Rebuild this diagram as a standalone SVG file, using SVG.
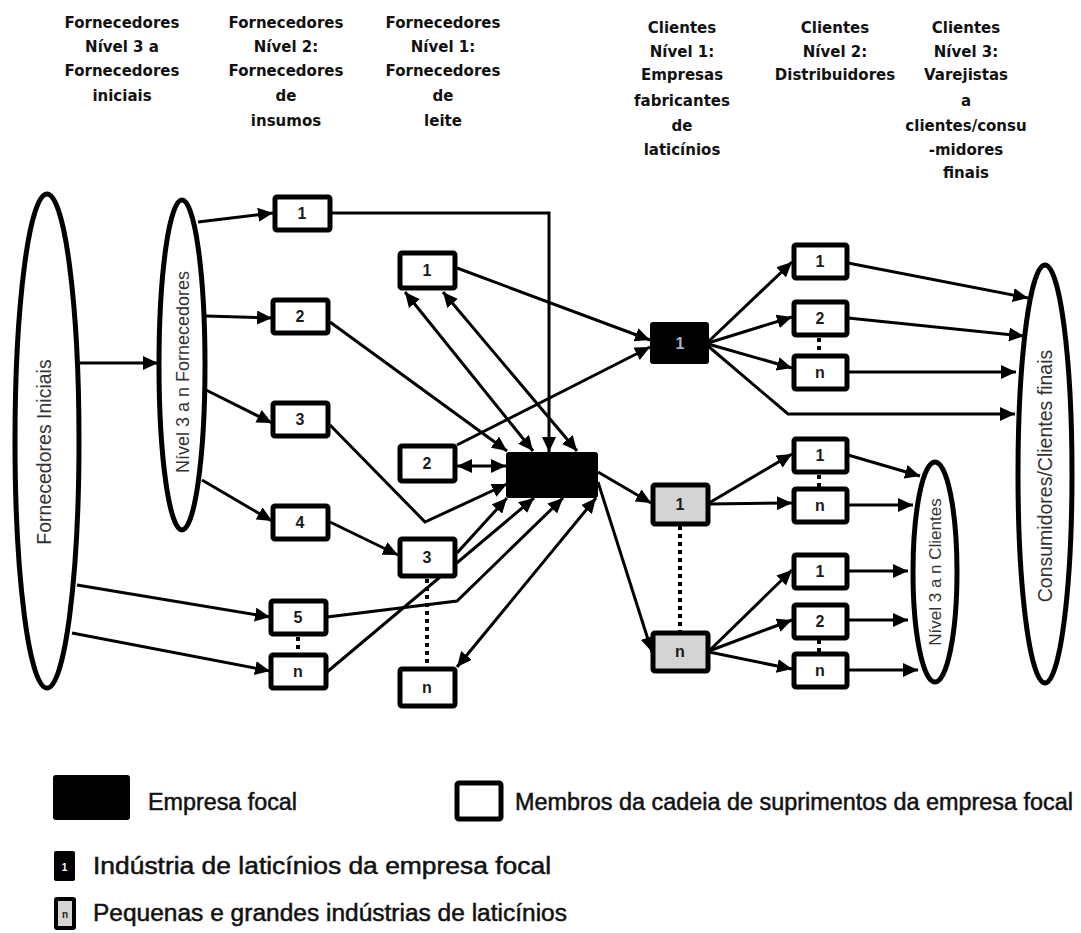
<svg xmlns="http://www.w3.org/2000/svg" width="1081" height="933" viewBox="0 0 1081 933">
  <defs>
    <marker id="arr" markerUnits="userSpaceOnUse" markerWidth="16" markerHeight="14" refX="15" refY="7" orient="auto-start-reverse">
      <path d="M0,0 L15,7 L0,14 z" fill="#000"/>
    </marker>
    <style>
      .hdr { font-family: "DejaVu Sans", "Liberation Sans", sans-serif; font-weight: bold; font-size: 15px; fill: #111; text-anchor: middle; }
      .box { fill: #fff; stroke: #000; stroke-width: 5; }
      .grey { fill: #d4d4d4; stroke: #000; stroke-width: 5; }
      .lbl { font-family: "Liberation Sans", Arial, sans-serif; font-weight: bold; font-size: 16px; fill: #1a1a1a; text-anchor: middle; }
      .ell { fill: #fff; stroke: #000; stroke-width: 5; }
      .rot { font-family: "Liberation Sans", Arial, sans-serif; font-size: 18px; fill: #333; text-anchor: middle; }
      .arw { fill: none; stroke: #000; stroke-width: 3; marker-end: url(#arr); }
      .dbl { fill: none; stroke: #000; stroke-width: 3; marker-start: url(#arr); marker-end: url(#arr); }
      .dot { fill: none; stroke: #000; stroke-width: 4; stroke-dasharray: 4 4; }
      .leg { font-family: "Liberation Sans", Arial, sans-serif; font-size: 23px; fill: #111; stroke: #111; stroke-width: 0.5; }
    </style>
  </defs>

  <rect width="1081" height="933" fill="#fff"/>

  <!-- column headings -->
  <g id="headers">
    <text class="hdr" x="122" y="28">Fornecedores<tspan x="122" dy="24">Nível 3 a</tspan><tspan x="122" dy="24">Fornecedores</tspan><tspan x="122" dy="25">iniciais</tspan></text>
    <text class="hdr" x="286" y="28">Fornecedores<tspan x="286" dy="24">Nível 2:</tspan><tspan x="286" dy="24">Fornecedores</tspan><tspan x="286" dy="25">de</tspan><tspan x="286" dy="25">insumos</tspan></text>
    <text class="hdr" x="443" y="28">Fornecedores<tspan x="443" dy="24">Nível 1:</tspan><tspan x="443" dy="24">Fornecedores</tspan><tspan x="443" dy="25">de</tspan><tspan x="443" dy="25">leite</tspan></text>
    <text class="hdr" x="682" y="33">Clientes<tspan x="682" dy="24">Nível 1:</tspan><tspan x="682" dy="23">Empresas</tspan><tspan x="682" dy="26">fabricantes</tspan><tspan x="682" dy="25">de</tspan><tspan x="682" dy="24">laticínios</tspan></text>
    <text class="hdr" x="835" y="33">Clientes<tspan x="835" dy="24">Nível 2:</tspan><tspan x="835" dy="23">Distribuidores</tspan></text>
    <text class="hdr" x="966" y="33">Clientes<tspan x="966" dy="24">Nível 3:</tspan><tspan x="966" dy="23">Varejistas</tspan><tspan x="966" dy="26">a</tspan><tspan x="966" dy="25">clientes/consu</tspan><tspan x="966" dy="24">-midores</tspan><tspan x="966" dy="23">finais</tspan></text>
  </g>

  <!-- connectors -->
  <g id="connectors">
    <line class="arw" x1="80" y1="363" x2="158" y2="363"/>
    <line class="arw" x1="77" y1="585" x2="270" y2="617"/>
    <line class="arw" x1="72" y1="633" x2="270" y2="671"/>
    <line class="arw" x1="198" y1="222" x2="273" y2="213"/>
    <line class="arw" x1="206" y1="316" x2="272" y2="318"/>
    <line class="arw" x1="206" y1="390" x2="272" y2="423"/>
    <line class="arw" x1="202" y1="480" x2="272" y2="521"/>
    <polyline class="arw" points="330,213 549,213 549,452"/>
    <line class="arw" x1="330" y1="322" x2="507" y2="451"/>
    <polyline class="arw" points="330,425 425,522 507,484"/>
    <line class="arw" x1="330" y1="522" x2="398" y2="555"/>
    <polyline class="arw" points="327,617 457,601 563,498"/>
    <line class="arw" x1="327" y1="672" x2="534" y2="498"/>
    <line class="arw" x1="457" y1="553" x2="507" y2="498"/>
    <line class="dbl" x1="596" y1="498" x2="457" y2="667"/>
    <line class="dbl" x1="457" y1="466" x2="506" y2="466"/>
    <line class="arw" x1="457" y1="445" x2="650" y2="347"/>
    <line class="arw" x1="457" y1="268" x2="650" y2="340"/>
    <line class="dbl" x1="405" y1="292" x2="533" y2="451"/>
    <line class="dbl" x1="443" y1="292" x2="577" y2="451"/>
    <line class="arw" x1="598" y1="472" x2="651" y2="503"/>
    <line class="arw" x1="598" y1="482" x2="652" y2="652"/>
    <line class="arw" x1="708" y1="342" x2="792" y2="262"/>
    <line class="arw" x1="708" y1="343" x2="792" y2="317"/>
    <line class="arw" x1="708" y1="344" x2="792" y2="368"/>
    <polyline class="arw" points="708,346 788,414 1015,414"/>
    <line class="arw" x1="848" y1="263" x2="1028" y2="298"/>
    <line class="arw" x1="848" y1="318" x2="1024" y2="336"/>
    <line class="arw" x1="848" y1="372" x2="1016" y2="372"/>
    <line class="arw" x1="709" y1="503" x2="792" y2="454"/>
    <line class="arw" x1="709" y1="504" x2="792" y2="503"/>
    <line class="arw" x1="848" y1="455" x2="920" y2="476"/>
    <line class="arw" x1="848" y1="505" x2="913" y2="505"/>
    <line class="arw" x1="709" y1="651" x2="792" y2="570"/>
    <line class="arw" x1="709" y1="651" x2="792" y2="620"/>
    <line class="arw" x1="709" y1="652" x2="792" y2="669"/>
    <line class="arw" x1="848" y1="571" x2="908" y2="571"/>
    <line class="arw" x1="848" y1="620" x2="908" y2="620"/>
    <line class="arw" x1="848" y1="670" x2="918" y2="670"/>
    <!-- dotted continuation marks -->
    <line class="dot" x1="298" y1="637" x2="298" y2="652"/>
    <line class="dot" x1="427" y1="579" x2="427" y2="667"/>
    <line class="dot" x1="680" y1="526" x2="680" y2="631"/>
    <line class="dot" x1="819" y1="338" x2="819" y2="354"/>
    <line class="dot" x1="819" y1="475" x2="819" y2="487"/>
    <line class="dot" x1="819" y1="640" x2="819" y2="652"/>
  </g>

  <!-- supplier ellipses -->
  <g id="fornecedores-iniciais">
    <ellipse class="ell" cx="47" cy="441" rx="32" ry="247"/>
    <text class="rot" style="font-size:19.5px" transform="translate(51,452) rotate(-90)">Fornecedores Iniciais</text>
  </g>
  <g id="nivel3-fornecedores">
    <ellipse class="ell" cx="182" cy="365" rx="23" ry="165"/>
    <text class="rot" transform="translate(189,372) rotate(-90)">Nível 3 a n Fornecedores</text>
  </g>

  <!-- tier 2 suppliers -->
  <g id="f2-1"><rect class="box" x="275" y="197" width="55" height="33" rx="2"/><text class="lbl" x="302" y="219">1</text></g>
  <g id="f2-2"><rect class="box" x="273" y="300" width="55" height="33" rx="2"/><text class="lbl" x="300" y="322">2</text></g>
  <g id="f2-3"><rect class="box" x="273" y="403" width="55" height="33" rx="2"/><text class="lbl" x="300" y="425">3</text></g>
  <g id="f2-4"><rect class="box" x="273" y="506" width="55" height="33" rx="2"/><text class="lbl" x="300" y="528">4</text></g>
  <g id="f2-5"><rect class="box" x="271" y="601" width="55" height="33" rx="2"/><text class="lbl" x="298" y="623">5</text></g>
  <g id="f2-n"><rect class="box" x="271" y="655" width="55" height="33" rx="2"/><text class="lbl" x="298" y="677">n</text></g>

  <!-- tier 1 suppliers -->
  <g id="f1-1"><rect class="box" x="400" y="253" width="55" height="35" rx="2"/><text class="lbl" x="427" y="276">1</text></g>
  <g id="f1-2"><rect class="box" x="400" y="446" width="55" height="35" rx="2"/><text class="lbl" x="427" y="469">2</text></g>
  <g id="f1-3"><rect class="box" x="400" y="539" width="55" height="37" rx="2"/><text class="lbl" x="427" y="563">3</text></g>
  <g id="f1-n"><rect class="box" x="400" y="669" width="55" height="37" rx="2"/><text class="lbl" x="427" y="693">n</text></g>

  <!-- focal company -->
  <g id="focal"><rect x="506" y="452" width="92" height="46" rx="3" fill="#000"/></g>

  <!-- tier 1 clients -->
  <g id="c1-focal"><rect x="650" y="322" width="59" height="42" rx="3" fill="#000"/><text class="lbl" x="680" y="349" style="fill:#9fb7c8">1</text></g>
  <g id="c1-1"><rect class="grey" x="653" y="485" width="55" height="39" rx="2"/><text class="lbl" x="680" y="510">1</text></g>
  <g id="c1-n"><rect class="grey" x="653" y="633" width="55" height="38" rx="2"/><text class="lbl" x="680" y="657">n</text></g>

  <!-- tier 2 clients -->
  <g id="c2-a1"><rect class="box" x="794" y="245" width="53" height="33" rx="2"/><text class="lbl" x="820" y="267">1</text></g>
  <g id="c2-a2"><rect class="box" x="794" y="302" width="53" height="33" rx="2"/><text class="lbl" x="820" y="324">2</text></g>
  <g id="c2-an"><rect class="box" x="794" y="356" width="53" height="33" rx="2"/><text class="lbl" x="820" y="378">n</text></g>
  <g id="c2-b1"><rect class="box" x="794" y="439" width="53" height="33" rx="2"/><text class="lbl" x="820" y="461">1</text></g>
  <g id="c2-bn"><rect class="box" x="794" y="489" width="53" height="33" rx="2"/><text class="lbl" x="820" y="511">n</text></g>
  <g id="c2-c1"><rect class="box" x="794" y="555" width="53" height="33" rx="2"/><text class="lbl" x="820" y="577">1</text></g>
  <g id="c2-c2"><rect class="box" x="794" y="605" width="53" height="33" rx="2"/><text class="lbl" x="820" y="627">2</text></g>
  <g id="c2-cn"><rect class="box" x="794" y="654" width="53" height="33" rx="2"/><text class="lbl" x="820" y="676">n</text></g>

  <!-- client ellipses -->
  <g id="nivel3-clientes">
    <ellipse class="ell" cx="935" cy="572" rx="22" ry="110"/>
    <text class="rot" style="font-size:17px" transform="translate(941,572) rotate(-90)">Nível 3 a n Clientes</text>
  </g>
  <g id="consumidores">
    <ellipse class="ell" cx="1045" cy="474" rx="27" ry="209"/>
    <text class="rot" style="font-size:19.5px" transform="translate(1052,476) rotate(-90)">Consumidores/Clientes finais</text>
  </g>

  <!-- legend -->
  <g id="legend">
    <rect x="53" y="775" width="77" height="45" rx="3" fill="#000"/>
    <text class="leg" x="148" y="810" textLength="149" lengthAdjust="spacingAndGlyphs">Empresa focal</text>
    <rect x="457" y="783" width="44" height="36" rx="2" class="box"/>
    <text class="leg" x="515" y="810" textLength="558" lengthAdjust="spacingAndGlyphs">Membros da cadeia de suprimentos da empresa focal</text>
    <rect x="54" y="851" width="21" height="30" rx="2" fill="#000"/>
    <text x="64.5" y="871" style="font-family:'Liberation Sans',Arial,sans-serif;font-size:10px;font-weight:bold;fill:#fff;text-anchor:middle">1</text>
    <text class="leg" x="93" y="874" textLength="458" lengthAdjust="spacingAndGlyphs">Indústria de laticínios da empresa focal</text>
    <rect x="56" y="899" width="18" height="29" rx="1" class="grey" style="stroke-width:4"/>
    <text x="65" y="918" style="font-family:'Liberation Sans',Arial,sans-serif;font-size:10px;font-weight:bold;fill:#222;text-anchor:middle">n</text>
    <text class="leg" x="93" y="921" textLength="474" lengthAdjust="spacingAndGlyphs">Pequenas e grandes indústrias de laticínios</text>
  </g>
</svg>
